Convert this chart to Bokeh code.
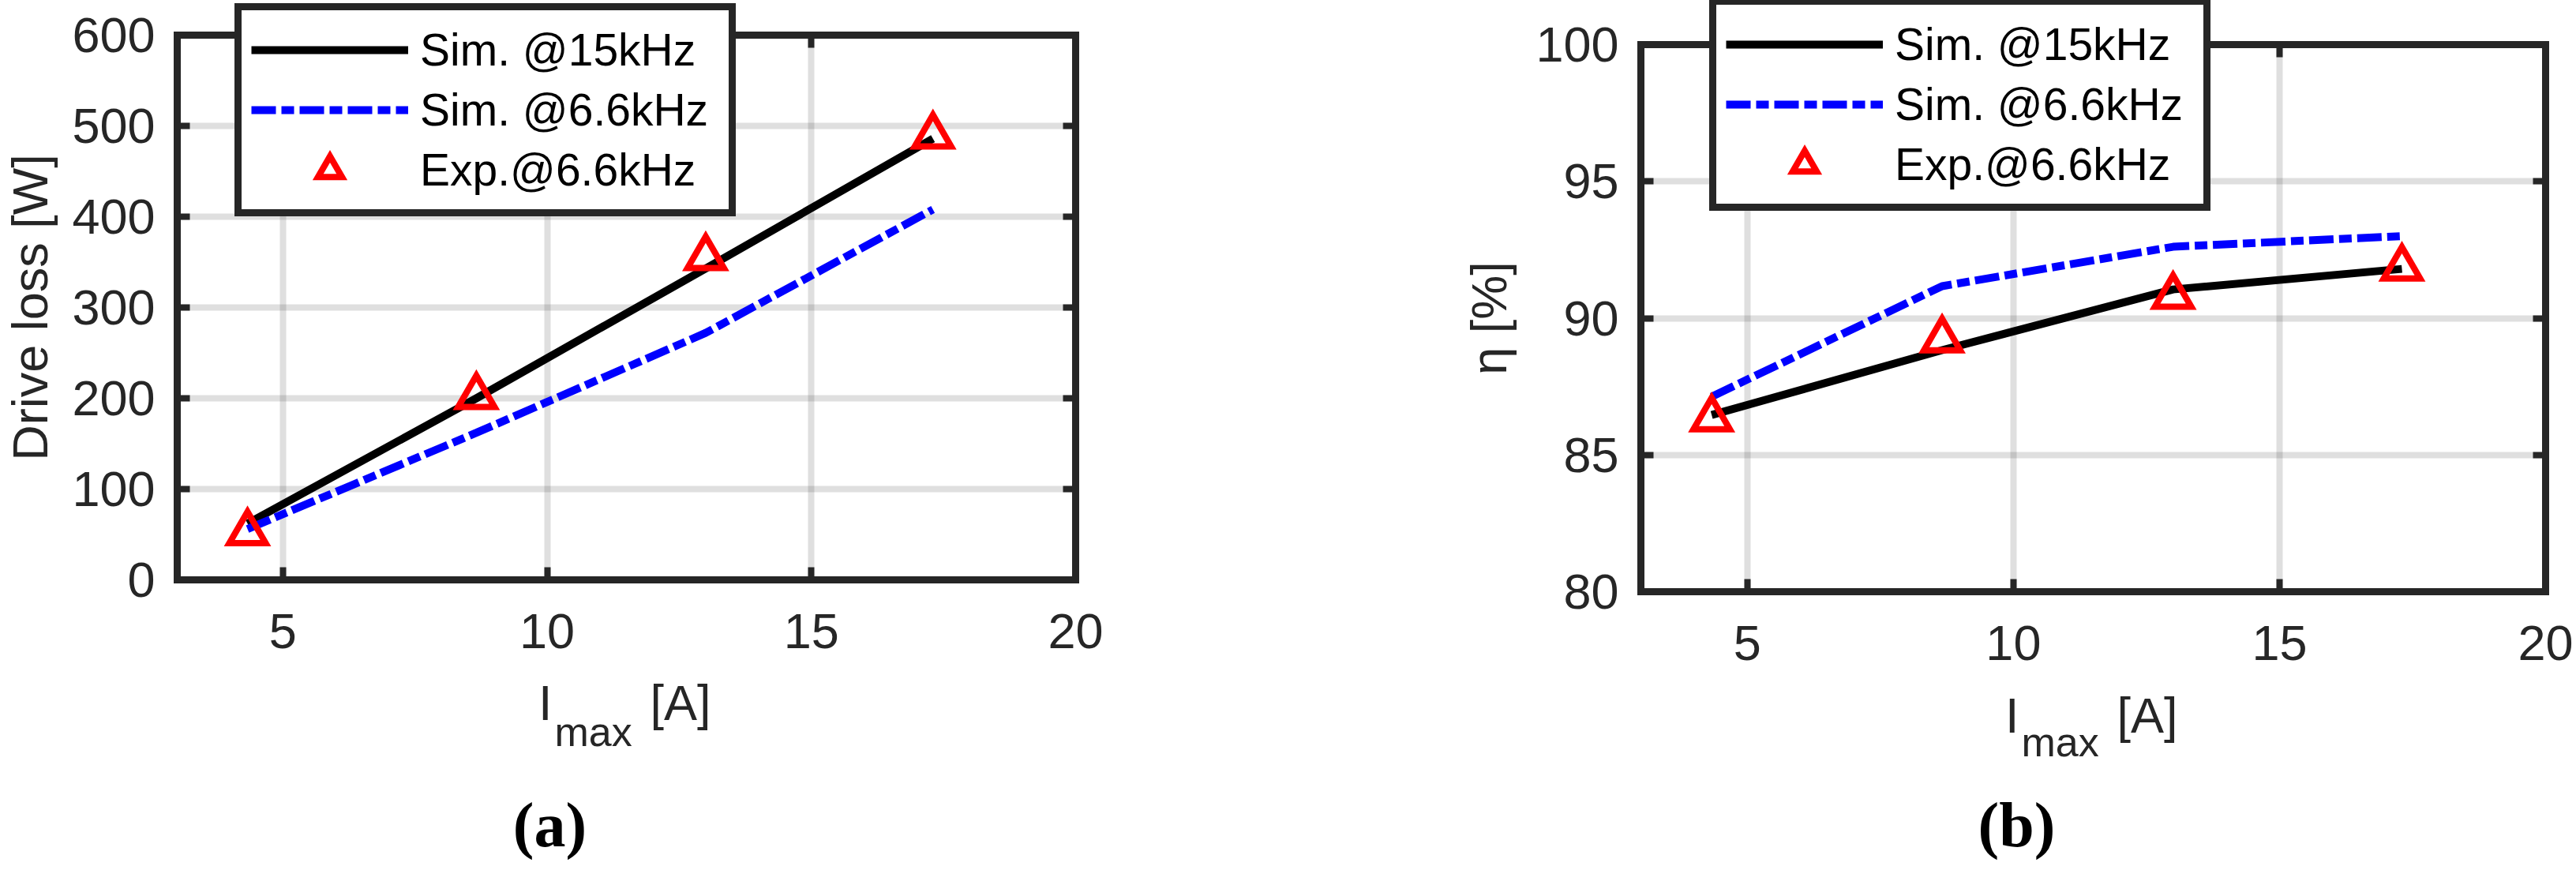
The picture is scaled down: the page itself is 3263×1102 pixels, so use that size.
import math
from bokeh.plotting import figure
from bokeh.layouts import row
from bokeh.models import (Range1d, FixedTicker, LinearAxis, Grid, Legend, LegendItem, Label)
from bokeh.embed import file_html
from bokeh.resources import INLINE

# ---------------- data ----------------
i_max = [4.33, 8.66, 13.0, 17.3]

loss_sim_15k = [62, 200, 343, 486]
loss_sim_6k6 = [56, 162, 272, 408]
loss_exp_6k6 = [52, 202, 355, 489]

eff_sim_15k = [86.46, 88.83, 91.05, 91.80]
eff_sim_6k6 = [87.13, 91.17, 92.61, 93.00]
eff_exp_6k6 = [86.32, 89.21, 90.80, 91.83]

x_limits = [3, 20]
loss_limits = [0, 600]
eff_limits = [80, 100]
x_ticks = [5, 10, 15, 20]
loss_ticks = [0, 100, 200, 300, 400, 500, 600]
eff_ticks = [80, 85, 90, 95, 100]

legend_labels = ["Sim. @15kHz", "Sim. @6.6kHz", "Exp.@6.6kHz"]
loss_ylabel = "Drive loss [W]"
eff_ylabel = "\u03b7 [%]"
captions = ["(a)", "(b)"]

# ---------------- layout (page pixels; Bokeh's page has no body margin) ----------------
H = 1100
W1, W2 = 1600, 1661
OX1, OX2 = 0, W1
# axes boxes on the page: left, right, top, bottom
BOX1 = (224, 1362, 44, 734)
BOX2 = (2078, 3224, 56, 749)

AX = "#262626"
FONT = "Liberation Sans"
TICK_PX = 63
MID = 0.35  # distance baseline -> text middle, in font sizes


def style_axis(ax, labels=True, standoff=28):
    ax.axis_line_width = 9
    ax.axis_line_color = AX
    ax.axis_line_cap = "square"
    ax.major_tick_in = 16
    ax.major_tick_out = 0
    ax.major_tick_line_width = 8
    ax.major_tick_line_color = AX
    ax.minor_tick_line_color = None
    ax.major_label_text_font = FONT
    ax.major_label_text_font_size = f"{TICK_PX}px"
    ax.major_label_standoff = standoff
    ax.major_label_text_color = AX if labels else None


def make_panel(width, ox, box, ylim, yticks, ys, legend_left, legend_bottom):
    left, right, top, bottom = box
    # ranges chosen so that the axes box lands where the reference has it
    kx = (right - left) / (x_limits[1] - x_limits[0])
    ky = (bottom - top) / (ylim[1] - ylim[0])
    xr = Range1d(x_limits[0] - (left - ox) / kx, x_limits[1] + (ox + width - right) / kx)
    yr = Range1d(ylim[0] - (H - bottom) / ky, ylim[1] + top / ky)

    p = figure(width=width, height=H, x_range=xr, y_range=yr,
               output_backend="svg", toolbar_location=None,
               x_axis_location=None, y_axis_location=None,
               min_border=0, min_border_left=0, min_border_right=0,
               min_border_top=0, min_border_bottom=0)
    p.background_fill_color = "white"
    p.border_fill_color = "white"
    p.outline_line_color = None
    p.grid.visible = False

    xt = FixedTicker(ticks=x_ticks)
    yt = FixedTicker(ticks=yticks)
    for dim, tk, bnd, cb in ((0, xt, tuple(x_limits), tuple(ylim)),
                             (1, yt, tuple(ylim), tuple(x_limits))):
        g = Grid(dimension=dim, ticker=tk, bounds=bnd, cross_bounds=cb,
                 grid_line_color=AX, grid_line_alpha=0.15, grid_line_width=8)
        p.add_layout(g)

    bx = LinearAxis(ticker=xt, fixed_location=ylim[0], bounds=tuple(x_limits))
    tx = LinearAxis(ticker=xt, fixed_location=ylim[1], bounds=tuple(x_limits))
    ly = LinearAxis(ticker=yt, fixed_location=x_limits[0], bounds=tuple(ylim))
    ry = LinearAxis(ticker=yt, fixed_location=x_limits[1], bounds=tuple(ylim))
    style_axis(bx, True, 43)
    style_axis(tx, False)
    style_axis(ly, True, 28)
    style_axis(ry, False)
    p.add_layout(bx, "below")
    p.add_layout(tx, "above")
    p.add_layout(ly, "left")
    p.add_layout(ry, "right")

    r1 = p.line(i_max, ys[0], line_color="black", line_width=10, line_join="round")
    r2 = p.line(i_max, ys[1], line_color="#0000ff", line_width=10, line_dash="31 7 16 7")
    r3 = p.scatter(i_max, ys[2], marker="triangle", size=46, line_color="#ff0000",
                   line_width=8, fill_color=None, line_join="miter")

    legend = Legend(items=[LegendItem(label=legend_labels[0], renderers=[r1]),
                           LegendItem(label=legend_labels[1], renderers=[r2]),
                           LegendItem(label=legend_labels[2], renderers=[r3])],
                    location=(legend_left - ox, H - legend_bottom),
                    margin=0, padding=12, spacing=0,
                    glyph_width=199, glyph_height=76, label_height=76,
                    label_width=379, label_standoff=15,
                    label_text_font=FONT, label_text_font_size="57px",
                    label_text_color="black",
                    border_line_color=AX, border_line_width=9, border_line_alpha=1.0,
                    background_fill_color="white", background_fill_alpha=1.0)
    p.add_layout(legend)
    return p


def add_text(p, ox, text, px, py, size, rotated=False, align="left", font=FONT,
             style="normal", color=AX):
    # px, py: page position; the baseline is at py (or at px for rotated text)
    if rotated:
        px = px - MID * size
    else:
        py = py - MID * size
    p.add_layout(Label(x=px - ox, y=H - py, x_units="screen", y_units="screen",
                       text=text, angle=(math.pi / 2 if rotated else 0.0),
                       text_align=align, text_baseline="middle", text_font=font,
                       text_font_size=f"{size}px", text_font_style=style,
                       text_color=color))


p1 = make_panel(W1, OX1, BOX1, loss_limits, loss_ticks,
                (loss_sim_15k, loss_sim_6k6, loss_exp_6k6), 297, 273.5)
p2 = make_panel(W2, OX2, BOX2, eff_limits, eff_ticks,
                (eff_sim_15k, eff_sim_6k6, eff_exp_6k6), 2165, 267)

for p, ox, box, ylab, ylab_x, base, sub, cap in (
        (p1, OX1, BOX1, loss_ylabel, 60, 912, 945, captions[0]),
        (p2, OX2, BOX2, eff_ylabel, 1908, 928, 958, captions[1])):
    left, right, top, bottom = box
    cx = (left + right) / 2
    cy = (top + bottom) / 2
    add_text(p, ox, "I", cx - 111.5, base, 63)
    add_text(p, ox, "max", cx - 91, sub, 52)
    add_text(p, ox, "[A]", cx + 30, base, 63)
    add_text(p, ox, ylab, ylab_x, cy, 63, rotated=True, align="center")
    add_text(p, ox, cap, cx - 97, 1072, 80, align="center",
             font="Liberation Serif", style="bold", color="black")

layout = row(p1, p2)
open("out.html", "w").write(file_html(layout, INLINE))
